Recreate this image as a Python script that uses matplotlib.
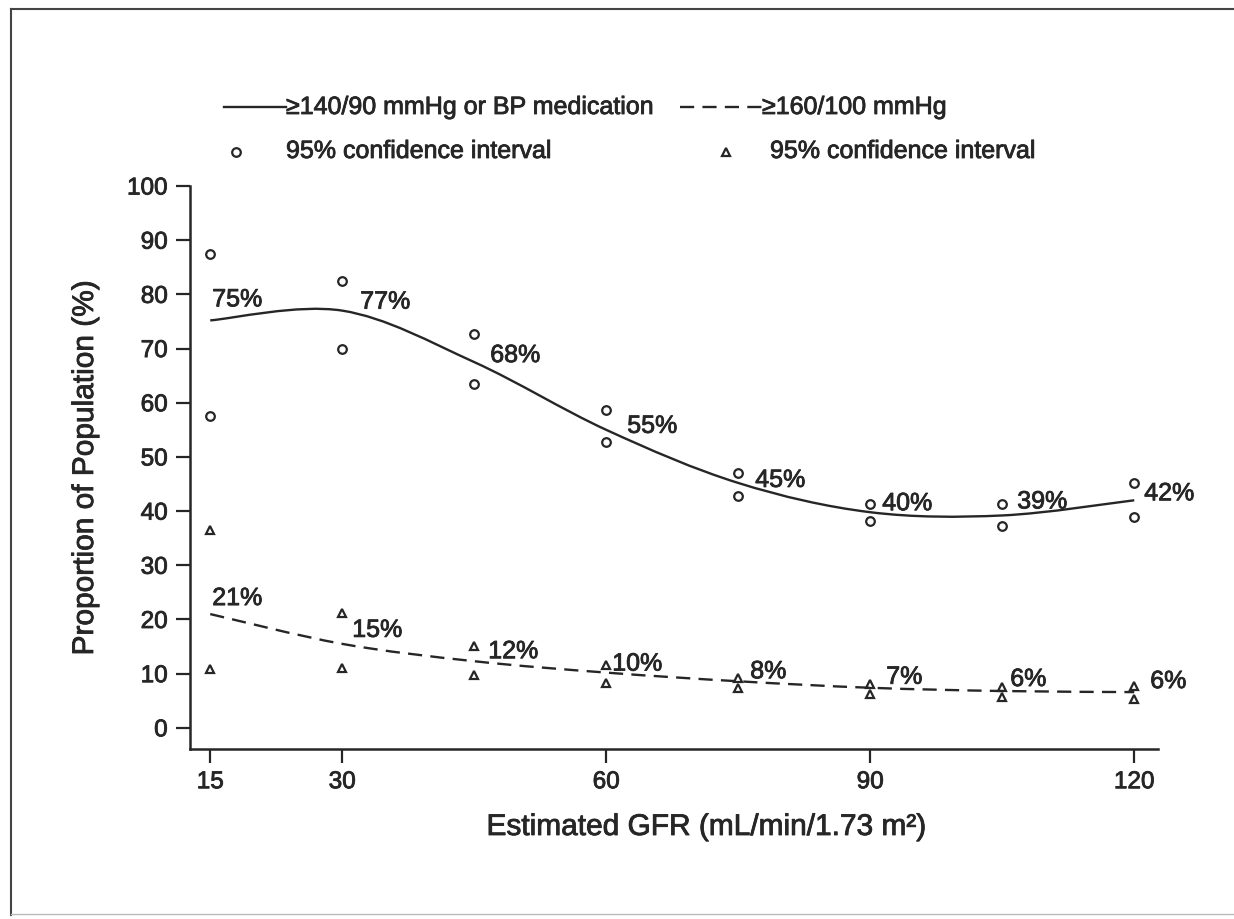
"""
Hypertension prevalence by estimated GFR.
"""

import matplotlib
matplotlib.use("Agg")
import matplotlib.pyplot as plt
import matplotlib.patheffects as pe
from matplotlib.path import Path
from matplotlib.patches import PathPatch
from matplotlib.lines import Line2D

plt.rcParams['font.family'] = ['Liberation Sans', 'DejaVu Sans']

ink = '#262626'
# slightly heavier strokes, like the scanned print
heavy = [pe.withStroke(linewidth=0.6, foreground=ink)]

# data
gfr = [15, 30, 45, 60, 75, 90, 105, 120]

htn_140 = [75.2, 77.0, 67.5, 55.0, 45.2, 39.8, 39.2, 42.0]
htn_140_hi = [87.5, 82.5, 72.7, 58.7, 47.0, 41.3, 41.3, 45.2]
htn_140_lo = [57.6, 69.9, 63.5, 52.8, 42.8, 38.2, 37.3, 38.9]
htn_140_labels = ["75%", "77%", "68%", "55%", "45%", "40%", "39%", "42%"]

htn_160 = [21.0, 15.5, 12.3, 10.2, 8.6, 7.4, 6.8, 6.6]
htn_160_hi = [36.5, 21.2, 15.1, 11.6, 9.2, 8.1, 7.5, 7.7]
htn_160_lo = [10.9, 11.0, 9.8, 8.3, 7.4, 6.3, 5.7, 5.3]
htn_160_labels = ["21%", "15%", "12%", "10%", "8%", "7%", "6%", "6%"]

x_ticks = [15, 30, 60, 90, 120]
y_ticks = [0, 10, 20, 30, 40, 50, 60, 70, 80, 90, 100]

# label offsets in pixels (dx, dy) from the curve point
off_140 = [(2, 21), (18, 9), (16, 7), (21, 4), (17, 3), (12, 9), (15, 14), (10, 7)]
off_160 = [(2, 16), (10, 14), (14, 10), (6, 9), (12, 10), (16, 11), (8, 12), (16, 11)]


def smooth_path(xs, ys):
    """Catmull-Rom style cubic Bezier path through the points."""
    n = len(xs)
    verts = [(xs[0], ys[0])]
    codes = [Path.MOVETO]
    for i in range(n - 1):
        x0, y0 = xs[max(i - 1, 0)], ys[max(i - 1, 0)]
        x1, y1 = xs[i], ys[i]
        x2, y2 = xs[i + 1], ys[i + 1]
        x3, y3 = xs[min(i + 2, n - 1)], ys[min(i + 2, n - 1)]
        c1 = (x1 + (x2 - x0) / 6, y1 + (y2 - y0) / 6)
        c2 = (x2 - (x3 - x1) / 6, y2 - (y3 - y1) / 6)
        verts += [c1, c2, (x2, y2)]
        codes += [Path.CURVE4] * 3
    return Path(verts, codes)


W, H = 1234, 920
fig = plt.figure(figsize=(W / 100, H / 100), dpi=100)
fig.patch.set_facecolor('white')

ax = fig.add_axes([190 / W, 1 - 750 / H, (1158 - 190) / W, (750 - 187) / H])
ax.set_xlim(12.7, 122.7)
ax.set_ylim(-3.9, 100)

ax.add_patch(PathPatch(smooth_path(gfr, htn_140), fill=False,
                       edgecolor=ink, linewidth=1.7))
ax.add_patch(PathPatch(smooth_path(gfr, htn_160), fill=False,
                       edgecolor=ink, linewidth=1.7, linestyle=(0, (6, 3.5))))

mk = dict(ls='none', ms=6.2, mfc='none', mec=ink, mew=1.6)
ax.plot(gfr, htn_140_hi, marker='o', **mk)
ax.plot(gfr, htn_140_lo, marker='o', **mk)
ax.plot(gfr, htn_160_hi, marker='^', **mk)
ax.plot(gfr, htn_160_lo, marker='^', **mk)

for x, y, lab, (dx, dy) in zip(gfr, htn_140, htn_140_labels, off_140):
    ax.annotate(lab, (x, y), xytext=(dx * 0.72, dy * 0.72), textcoords='offset points',
                ha='left', va='center', fontsize=18, color=ink, path_effects=heavy)
for x, y, lab, (dx, dy) in zip(gfr, htn_160, htn_160_labels, off_160):
    ax.annotate(lab, (x, y), xytext=(dx * 0.72, dy * 0.72), textcoords='offset points',
                ha='left', va='center', fontsize=18, color=ink, path_effects=heavy)

for s in ['top', 'right']:
    ax.spines[s].set_visible(False)
for s in ['left', 'bottom']:
    ax.spines[s].set_linewidth(1.8)
    ax.spines[s].set_color(ink)

ax.set_xticks(x_ticks)
ax.set_yticks(y_ticks)
ax.tick_params(axis='both', labelsize=17.5, colors=ink, width=1.6, length=10, pad=6)
for t in ax.get_xticklabels() + ax.get_yticklabels():
    t.set_path_effects(heavy)

ax.set_xlabel("Estimated GFR (mL/min/1.73 m²)", fontsize=21.5, color=ink,
              path_effects=heavy)
ax.set_ylabel("Proportion of Population (%)", fontsize=21.5, color=ink,
              path_effects=heavy)
ax.xaxis.set_label_coords((707 - 190) / 968, (750 - 814) / 563)
ax.yaxis.set_label_coords((99 - 190) / 968, 0.5)

# legend drawn by hand
lx = lambda p: p / W
ly = lambda p: 1 - p / H
leg = dict(fontsize=18, va='center', ha='left', color=ink, path_effects=heavy)
fig.add_artist(Line2D([lx(224), lx(286)], [ly(108), ly(108)], color=ink, lw=1.7))
fig.text(lx(286), ly(108), "≥140/90 mmHg or BP medication", **leg)
fig.add_artist(Line2D([lx(680), lx(762)], [ly(108), ly(108)], color=ink, lw=1.7,
                      linestyle=(0, (6, 3.5))))
fig.text(lx(762), ly(108), "≥160/100 mmHg", **leg)
fig.add_artist(Line2D([lx(236)], [ly(153)], marker='o', **mk))
fig.text(lx(286), ly(152), "95% confidence interval", **leg)
fig.add_artist(Line2D([lx(726)], [ly(153)], marker='^', **mk))
fig.text(lx(770), ly(152), "95% confidence interval", **leg)

# scanned page frame
fig.add_artist(Line2D([lx(11), lx(11)], [ly(10), ly(916)], color='#444444', lw=1.5))
fig.add_artist(Line2D([lx(11), lx(1234)], [ly(10), ly(10)], color='#444444', lw=1.5))
fig.add_artist(Line2D([lx(11), lx(1234)], [ly(915), ly(915)], color='#bbbbbb', lw=1))

fig.savefig("out.png", dpi=100)
